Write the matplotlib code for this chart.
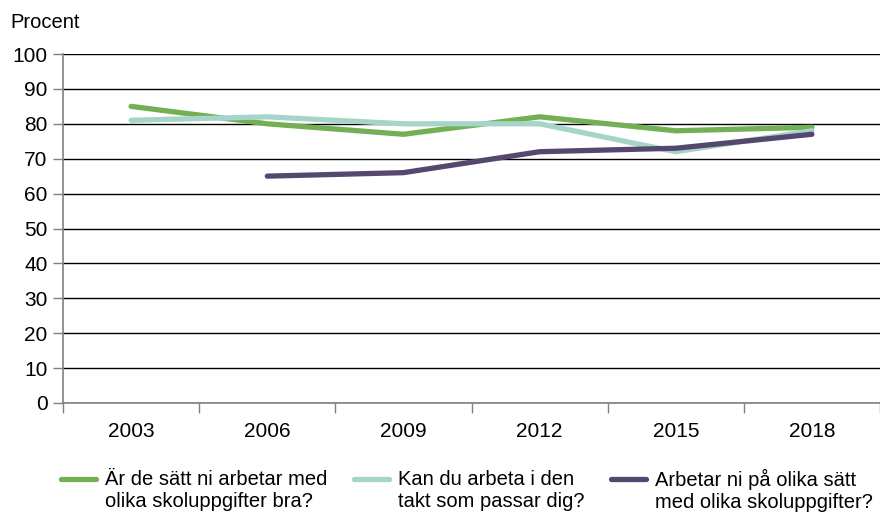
import matplotlib
matplotlib.use("Agg")
import matplotlib.pyplot as plt
import numpy as np
from matplotlib.legend_handler import HandlerLine2D

years = ["2003", "2006", "2009", "2012", "2015", "2018"]
s1 = [85, 80, 77, 82, 78, 79]
s2 = [81, 82, 80, 80, 72, 78]
s3 = [np.nan, 65, 66, 72, 73, 77]
labels = ["Är de sätt ni arbetar med\nolika skoluppgifter bra?",
          "Kan du arbeta i den\ntakt som passar dig?",
          "Arbetar ni på olika sätt\nmed olika skoluppgifter?"]
colors = ["#72AF55", "#A7D4C9", "#554870"]

plt.rcParams['font.family'] = ['Liberation Sans', 'DejaVu Sans']


class TopHandler(HandlerLine2D):
    def create_artists(self, legend, orig_handle, xdescent, ydescent, width,
                       height, fontsize, trans):
        shift = 0.62 * fontsize
        return super().create_artists(legend, orig_handle, xdescent,
                                      ydescent - 2 * shift, width, height,
                                      fontsize, trans)


fig = plt.figure(figsize=(8.8, 5.13), dpi=100)
ax = fig.add_axes([63/880, 110/513, 1 - 63/880, 349/513])

x = np.arange(len(years))
for s, c, l in zip([s1, s2, s3], colors, labels):
    ax.plot(x, s, color=c, lw=3.8, label=l, solid_capstyle='round', solid_joinstyle='round')

ax.set_xlim(-0.5, len(years) - 0.5)
ax.set_ylim(0, 100)
ax.set_yticks(range(0, 101, 10))
ax.set_xticks(x)
ax.set_xticklabels(years)
ax.set_xticks(np.arange(-0.5, len(years), 1), minor=True)
ax.tick_params(axis='x', which='major', length=0, pad=14, labelsize=15)
ax.tick_params(axis='x', which='minor', length=7, width=1, color='#808080', direction='out')
ax.tick_params(axis='y', length=7, width=1, color='#808080', labelsize=15, pad=4)
ax.yaxis.grid(True, color='black', lw=1)
ax.set_axisbelow(True)
for sp in ['top', 'right']:
    ax.spines[sp].set_visible(False)
for sp in ['left', 'bottom']:
    ax.spines[sp].set_color('#808080')
    ax.spines[sp].set_linewidth(1.2)
    ax.spines[sp].set_zorder(3)

fig.text(10/880, 1 - 22/513, "Procent", fontsize=14.5, va='center', ha='left')

handles, labs = ax.get_legend_handles_labels()
leg = fig.legend(handles, labs, loc='upper left', bbox_to_anchor=(53/880, 1 - 461/513), ncol=3,
                 frameon=False, fontsize=14.5, handlelength=1.75, handletextpad=0.45,
                 columnspacing=1.3, borderaxespad=0, labelspacing=0,
                 handler_map={h: TopHandler() for h in handles})
for t in leg.get_texts():
    t.set_linespacing(1.22)
fig.savefig("out.png", dpi=100)
